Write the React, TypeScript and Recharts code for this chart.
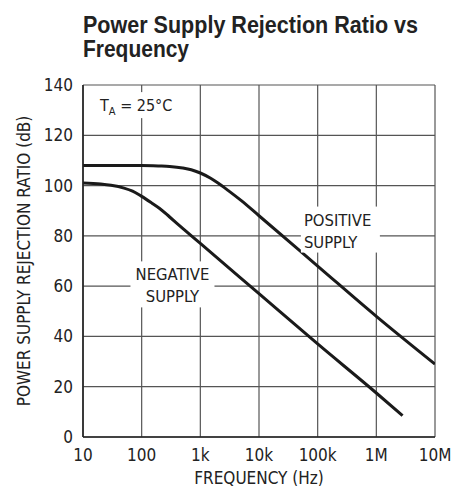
import React from 'react';
import { LineChart, Line, XAxis, YAxis, CartesianGrid, ReferenceDot } from 'recharts';

const FONT = "'DejaVu Sans Condensed', 'Liberation Sans Narrow', sans-serif";
const TITLE_FONT = "'Liberation Sans', Arial, sans-serif";

const titleLines = ['Power Supply Rejection Ratio vs', 'Frequency'];
const freqTicks = [10, 100, 1000, 10000, 100000, 1000000, 10000000];
const freqTickLabels = ['10', '100', '1k', '10k', '100k', '1M', '10M'];
const psrrTicks = [0, 20, 40, 60, 80, 100, 120, 140];

const posFreq = [10, 100, 200, 300, 500, 700, 1000, 1500, 2000, 3000, 5000, 10000, 100000, 1000000, 10000000];
const posPsrr = [108, 108, 107.8, 107.6, 107, 106.3, 105, 102.9, 101, 98, 94, 88, 68, 48, 29];
const negFreq = [10, 20, 30, 50, 70, 100, 150, 200, 300, 500, 1000, 10000, 100000, 1000000, 2800000];
const negPsrr = [101, 100.6, 100.1, 99, 97.8, 95.7, 93, 91, 87.5, 83, 77, 57, 37, 17.5, 8.5];

const posData = posFreq.map((f, i) => ({ f, v: posPsrr[i] }));
const negData = negFreq.map((f, i) => ({ f, v: negPsrr[i] }));

const tickLabel = (v: number) => {
  const i = freqTicks.indexOf(v);
  return i >= 0 ? freqTickLabels[i] : String(v);
};

const BoxLabel = (props: any) => {
  const { cx, cy, lines, w, h, anchor } = props;
  const x0 = anchor === 'start' ? cx - 3 : cx - w / 2;
  return (
    <g>
      <rect x={x0} y={cy - h / 2} width={w} height={h} fill="#fff" />
      <text
        x={cx}
        y={cy - h / 2 + 19}
        textAnchor={anchor === 'start' ? 'start' : 'middle'}
        fontFamily={FONT}
        fontSize={16.5}
        fill="#222"
      >
        {lines.map((t: string, i: number) => (
          <tspan key={i} x={cx} dy={i === 0 ? 0 : 22}>
            {t}
          </tspan>
        ))}
      </text>
    </g>
  );
};

const TaLabel = (props: any) => {
  const { cx, cy } = props;
  return (
    <g>
      <rect x={cx - 5} y={cy - 13} width={75} height={26} fill="#fff" />
      <text x={cx} y={cy + 6} fontFamily={FONT} fontSize={16} fill="#222">
        <tspan>T</tspan>
        <tspan fontSize={11} dy={4}>A</tspan>
        <tspan dy={-4}> = 25°C</tspan>
      </text>
    </g>
  );
};

export default function App() {
  return (
    <div style={{ position: 'absolute', left: 0, top: 0, width: 466, height: 491, background: '#fff' }}>
      <svg width={466} height={70} style={{ position: 'absolute', left: 0, top: 0 }}>
        <text fontFamily={TITLE_FONT} fontWeight="bold" fontSize={24.5} fill="#222">
          <tspan x={83} y={33} textLength={335} lengthAdjust="spacingAndGlyphs">
            {titleLines[0]}
          </tspan>
          <tspan x={83} y={57} textLength={106} lengthAdjust="spacingAndGlyphs">
            {titleLines[1]}
          </tspan>
        </text>
      </svg>
      <LineChart
        width={466}
        height={491}
        margin={{ top: 85, right: 31, bottom: 24, left: 23 }}
        style={{ position: 'absolute', left: 0, top: 0 }}
      >
        <CartesianGrid stroke="#555" strokeWidth={1.2} />
        <XAxis
          type="number"
          dataKey="f"
          scale="log"
          domain={[10, 10000000]}
          ticks={freqTicks}
          tickFormatter={tickLabel}
          allowDataOverflow
          interval={0}
          height={30}
          tickLine={false}
          tickSize={6}
          tickMargin={6}
          axisLine={{ stroke: '#222', strokeWidth: 1.6 }}
          tick={{ fontFamily: FONT, fontSize: 17, fill: '#222' }}
          label={{
            value: 'FREQUENCY (Hz)',
            position: 'bottom',
            offset: 5,
            style: { fontFamily: FONT, fontSize: 17, fill: '#222' },
          }}
        />
        <YAxis
          type="number"
          domain={[0, 140]}
          ticks={psrrTicks}
          interval={0}
          width={60}
          tickLine={false}
          tickSize={8}
          tickMargin={2}
          axisLine={{ stroke: '#222', strokeWidth: 1.6 }}
          tick={{ fontFamily: FONT, fontSize: 17, fill: '#222' }}
          label={{
            value: 'POWER SUPPLY REJECTION RATIO (dB)',
            angle: -90,
            position: 'insideLeft',
            dx: -4,
            style: { fontFamily: FONT, fontSize: 17, fill: '#222', textAnchor: 'middle' },
          }}
        />
        <ReferenceDot x={19.5} y={132} r={0} shape={(p: any) => <TaLabel {...p} />} />
        <ReferenceDot
          x={335}
          y={60.7}
          r={0}
          shape={(p: any) => <BoxLabel {...p} lines={['NEGATIVE', 'SUPPLY']} w={84} h={46} anchor="middle" />}
        />
        <ReferenceDot
          x={58200}
          y={82.5}
          r={0}
          shape={(p: any) => <BoxLabel {...p} lines={['POSITIVE', 'SUPPLY']} w={79} h={46} anchor="start" />}
        />
        <Line data={posData} dataKey="v" type="monotone" stroke="#1a1a1a" strokeWidth={3} dot={false} isAnimationActive={false} />
        <Line data={negData} dataKey="v" type="monotone" stroke="#1a1a1a" strokeWidth={3} dot={false} isAnimationActive={false} />
      </LineChart>
    </div>
  );
}
